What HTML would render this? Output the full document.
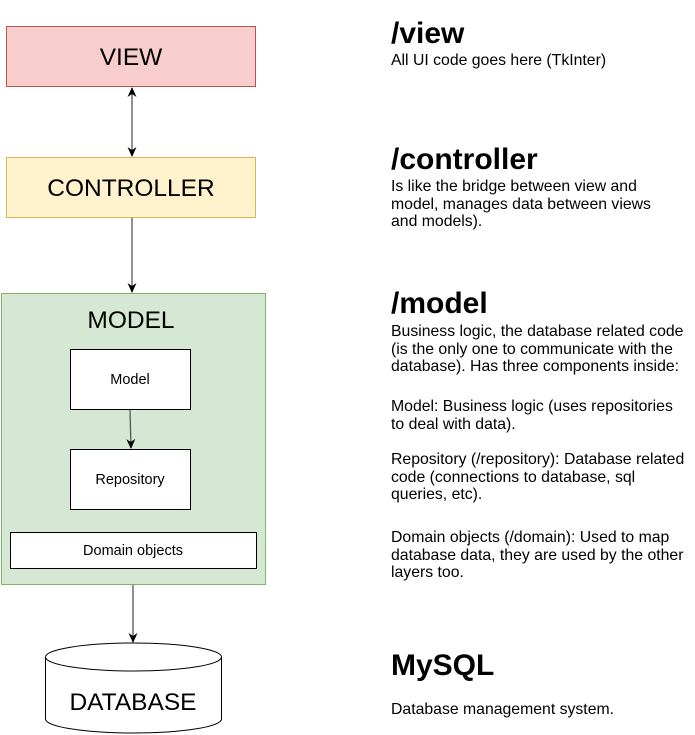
<!DOCTYPE html>
<html><head><style>
body{margin:0;width:695px;height:735px;background:#fff;position:relative;font-family:"Liberation Sans",Arial,sans-serif;overflow:hidden}
.a{position:absolute}
.h{position:absolute;left:391px;font-weight:bold;font-size:30px;line-height:32px;color:#000}
.t{position:absolute;left:391px;font-size:15.8px;line-height:17.5px;color:#000;width:310px;white-space:nowrap}
</style></head><body>
<svg class="a" style="left:0;top:0" width="695" height="735">
<defs><marker id="m" markerWidth="12" markerHeight="12" refX="9" refY="6" orient="auto-start-reverse" markerUnits="userSpaceOnUse"><path d="M0,1.5 L10,6 L0,10.5 L3,6z" fill="#000"/></marker></defs>
<rect x="6.5" y="26.5" width="249" height="60" fill="#f8cecc" stroke="#b85450"/>
<text x="131" y="65" font-size="24.5" text-anchor="middle" font-family="Liberation Sans">VIEW</text>
<rect x="6.5" y="157.5" width="249" height="60" fill="#fff2cc" stroke="#d6b656"/>
<text x="131" y="196" font-size="24.5" text-anchor="middle" font-family="Liberation Sans">CONTROLLER</text>
<rect x="1.5" y="293.5" width="264" height="291" fill="#d5e8d4" stroke="#82b366"/>
<text x="131" y="328" font-size="24.5" text-anchor="middle" font-family="Liberation Sans">MODEL</text>
<rect x="70.5" y="349.5" width="120" height="60" fill="#fff" stroke="#000"/>
<text x="130" y="384" font-size="14.5" text-anchor="middle" font-family="Liberation Sans">Model</text>
<rect x="70.5" y="449.5" width="120" height="60" fill="#fff" stroke="#000"/>
<text x="130" y="484" font-size="14.5" text-anchor="middle" font-family="Liberation Sans">Repository</text>
<rect x="10.5" y="532.5" width="246" height="36" fill="#fff" stroke="#000"/>
<text x="133" y="555" font-size="14.5" text-anchor="middle" font-family="Liberation Sans">Domain objects</text>
<path d="M45.5,657 L45.5,719 A88,14 0 0 0 221.5,719 L221.5,657 A88,14 0 0 0 45.5,657 A88,14 0 0 0 221.5,657" fill="#fff" stroke="#000"/>
<text x="133" y="710" font-size="24.5" text-anchor="middle" font-family="Liberation Sans">DATABASE</text>
<g stroke="#555" stroke-width="1.3" fill="none">
<line x1="132" y1="88" x2="132" y2="156" marker-start="url(#m)" marker-end="url(#m)"/>
<line x1="132" y1="218" x2="132" y2="292" marker-end="url(#m)"/>
<line x1="130" y1="410" x2="131" y2="448" marker-end="url(#m)"/>
<line x1="133" y1="585" x2="133" y2="642" marker-end="url(#m)"/>
</g>
</svg>
<div class="h" style="top:18px">/view</div>
<div class="t" style="top:52px">All UI code goes here (TkInter)</div>
<div class="h" style="top:144px">/controller</div>
<div class="t" style="top:178px">Is like the bridge between view and<br>model, manages data between views<br>and models).</div>
<div class="h" style="top:288px">/model</div>
<div class="t" style="top:323px">Business logic, the database related code<br>(is the only one to communicate with the<br>database). Has three components inside:</div>
<div class="t" style="top:398px">Model: Business logic (uses repositories<br>to deal with data).</div>
<div class="t" style="top:451px">Repository (/repository): Database related<br>code (connections to database, sql<br>queries, etc).</div>
<div class="t" style="top:529px">Domain objects (/domain): Used to map<br>database data, they are used by the other<br>layers too.</div>
<div class="h" style="top:650px">MySQL</div>
<div class="t" style="top:701px">Database management system.</div>
</body></html>
